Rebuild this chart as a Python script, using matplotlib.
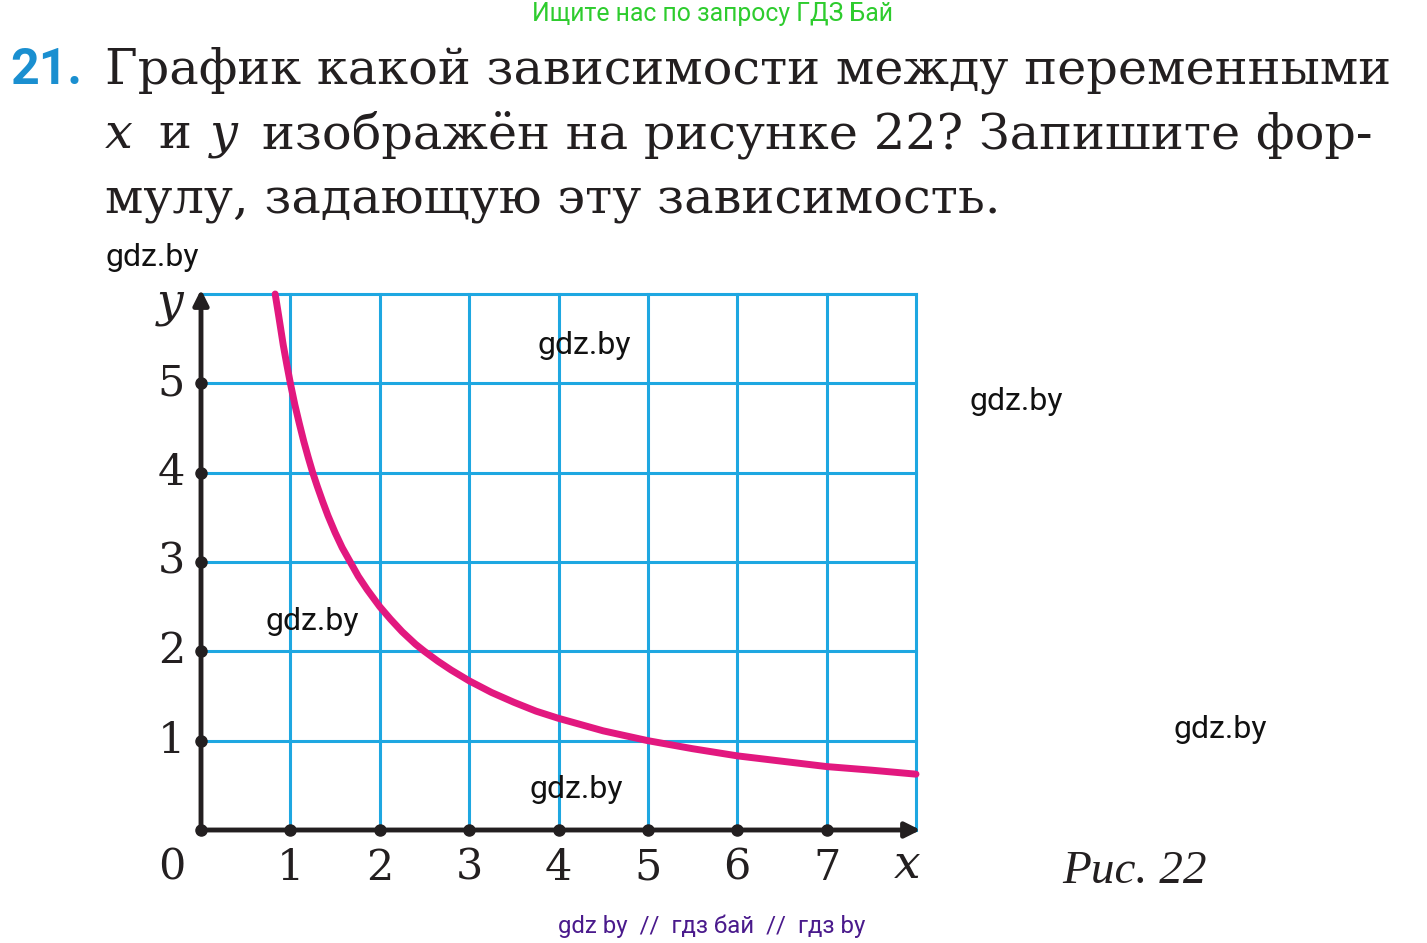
import matplotlib.pyplot as plt

# данные кривой
curve_x = [0.83, 0.87, 0.92, 0.96, 1.0, 1.05, 1.1, 1.15, 1.2, 1.25, 1.3, 1.36, 1.42, 1.5,
           1.58, 1.67, 1.76, 1.86, 2.0, 2.12, 2.25, 2.4, 2.5, 2.65, 2.8, 3.0, 3.25, 3.5,
           3.75, 4.0, 4.5, 5.0, 5.5, 6.0, 6.5, 7.0, 7.5, 8.0]
curve_y = [6.0, 5.75, 5.43, 5.21, 5.0, 4.76, 4.55, 4.35, 4.17, 4.0, 3.85, 3.68, 3.52, 3.33,
           3.16, 3.0, 2.84, 2.69, 2.5, 2.36, 2.22, 2.08, 2.0, 1.89, 1.79, 1.67, 1.54, 1.43,
           1.33, 1.25, 1.11, 1.0, 0.91, 0.83, 0.77, 0.71, 0.67, 0.625]
x_ticks = [1, 2, 3, 4, 5, 6, 7]
y_ticks = [1, 2, 3, 4, 5]
grid_x = [1, 2, 3, 4, 5, 6, 7, 8]
grid_y = [1, 2, 3, 4, 5, 6]

W, H = 1427, 943
fig = plt.figure(figsize=(W / 100, H / 100), dpi=100)


def px(x, y):
    return x / W, 1 - y / H


serif = ['DejaVu Serif']
serif2 = ['Liberation Serif', 'DejaVu Serif']
sans = ['Roboto', 'DejaVu Sans']
blue = '#1ea7e1'
ink = '#231f20'

# оси: (0,0) -> (201,830), (8,6) -> (916,294)
ax = fig.add_axes([201 / W, 1 - 830 / H, (916 - 201) / W, (830 - 294) / H])
ax.set_xlim(0, 8)
ax.set_ylim(0, 6)
ax.axis('off')

for gx in grid_x:
    ax.plot([gx, gx], [0, 6], color=blue, lw=2.2, clip_on=False, zorder=1)
for gy in grid_y:
    ax.plot([0, 8], [gy, gy], color=blue, lw=2.2, clip_on=False, zorder=1)

# кривая
ax.plot(curve_x, curve_y, color='#e2187f', lw=5, solid_capstyle='round',
        solid_joinstyle='round', clip_on=False, zorder=3)

# оси со стрелками
arrow = dict(arrowstyle='-|>,head_length=0.9,head_width=0.45',
             lw=3.5, color=ink, shrinkA=0, shrinkB=0)
ax.annotate('', xy=(8.05, 0), xytext=(0, 0), arrowprops=arrow,
            annotation_clip=False, zorder=4)
ax.annotate('', xy=(0, 6.05), xytext=(0, 0), arrowprops=arrow,
            annotation_clip=False, zorder=4)
ax.plot([0] + x_ticks, [0] * (len(x_ticks) + 1), 'o', color=ink, ms=8,
        clip_on=False, zorder=5)
ax.plot([0] * len(y_ticks), y_ticks, 'o', color=ink, ms=8,
        clip_on=False, zorder=5)

for t in x_ticks:
    ax.text(t, -0.42, str(t), ha='center', va='center', fontsize=31,
            family=serif, color=ink)
for t in y_ticks:
    ax.text(-0.33, t, str(t), ha='center', va='center', fontsize=31,
            family=serif, color=ink)
ax.text(-0.33, -0.42, '0', ha='center', va='center', fontsize=31, family=serif,
        color=ink)
ax.text(7.9, -0.4, 'x', ha='center', va='center', fontsize=34, family=serif,
        style='italic', color=ink)
ax.text(-0.35, 5.9, 'y', ha='center', va='center', fontsize=34, family=serif,
        style='italic', color=ink)

# заголовок
fig.text(*px(713, 14), 'Ищите нас по запросу ГДЗ Бай', ha='center', va='center',
         fontsize=17.8, color='#2ecc2e', family=sans)
fig.text(*px(10, 70), '21.', ha='left', va='center', fontsize=36,
         fontweight='bold', color='#1a8fd0', family=sans)
lines = ['График какой зависимости между переменными',
         'изображён на рисунке 22? Запишите фор-',
         'мулу, задающую эту зависимость.']
fs = 35.6
fig.text(*px(105, 70), lines[0], ha='left', va='center', fontsize=fs,
         family=serif, color=ink)
fig.text(*px(105, 135), 'x', ha='left', va='center', fontsize=fs,
         family=serif, style='italic', color=ink)
fig.text(*px(158, 135), 'и', ha='left', va='center', fontsize=fs,
         family=serif, color=ink)
fig.text(*px(210, 135), 'y', ha='left', va='center', fontsize=fs,
         family=serif, style='italic', color=ink)
fig.text(*px(262, 135), lines[1], ha='left', va='center', fontsize=fs,
         family=serif, color=ink)
fig.text(*px(105, 200), lines[2], ha='left', va='center', fontsize=fs,
         family=serif, color=ink)

fig.text(*px(1135, 872), 'Рис. 22', ha='center', va='center', fontsize=34,
         family=serif2, style='italic', color=ink)

# водяные знаки
for (wx, wy) in [(152, 257), (584, 345), (1016, 401), (312, 621), (1220, 729), (576, 789)]:
    fig.text(*px(wx, wy), 'gdz.by', ha='center', va='center', fontsize=23,
             family=sans, color='#111111', zorder=10)
fig.text(*px(712, 926), 'gdz by  //  гдз бай  //  гдз by', ha='center', va='center',
         fontsize=17.3, family=sans, color='#4a1a8c')

fig.savefig('out.png', dpi=100)
